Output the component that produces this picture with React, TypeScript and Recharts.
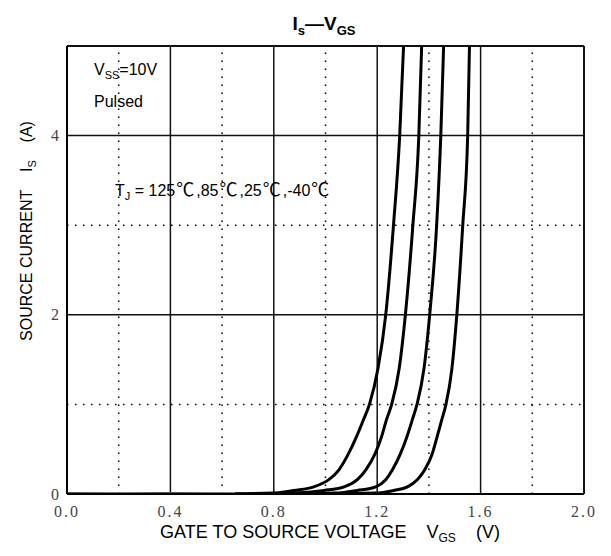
import React from 'react';
import { LineChart, Line, XAxis, YAxis, ReferenceLine } from 'recharts';

// source currents (A)
const currents = [0.003, 0.01, 0.04, 0.08, 0.16, 0.27, 0.45, 0.64, 0.83, 1, 1.4, 2, 3, 4, 5];

// gate voltage at each current, one list per junction temperature
const vgs125 = [0.65, 0.8, 0.878, 0.955, 1.013, 1.052, 1.089, 1.12, 1.147, 1.17, 1.203, 1.233, 1.263, 1.287, 1.302];
const vgs85 = [0.72, 0.877, 0.994, 1.072, 1.123, 1.156, 1.192, 1.217, 1.236, 1.256, 1.285, 1.309, 1.338, 1.361, 1.372];
const vgs25 = [0.85, 1.032, 1.123, 1.194, 1.233, 1.259, 1.29, 1.315, 1.336, 1.354, 1.381, 1.403, 1.43, 1.446, 1.457];
const vgsMinus40 = [1.0, 1.188, 1.265, 1.317, 1.355, 1.384, 1.413, 1.432, 1.45, 1.466, 1.489, 1.508, 1.531, 1.55, 1.557];

// leakage floor before turn-on
const leakV = [0, 0.2, 0.4, 0.6, 0.8];
const leakI = [0.01, 0.008, 0.01, 0.008, 0.01];

const xTicks = [0, 0.4, 0.8, 1.2, 1.6, 2.0];
const yTicks = [0, 2, 4];
const solidX = [0.4, 0.8, 1.2, 1.6, 2.0];
const dottedX = [0.2, 0.6, 1.0, 1.4, 1.8];
const solidY = [2, 4, 5];
const dottedY = [1, 3];

const toPoints = (vs: number[], is: number[]) => vs.map((v, k) => ({ v, i: is[k] }));

const curves = [
  { name: '125C', data: toPoints(vgs125, currents) },
  { name: '85C', data: toPoints(vgs85, currents) },
  { name: '25C', data: toPoints(vgs25, currents) },
  { name: '-40C', data: toPoints(vgsMinus40, currents) },
];
const leakage = toPoints(leakV, leakI);

const sans = 'Liberation Sans, Arial, sans-serif';
const serif = 'Liberation Serif, serif';
const cjk = 'Noto Sans CJK SC';

export default function App() {
  return (
    <div style={{ position: 'relative', width: 603, height: 548 }}>
      <LineChart width={603} height={548} margin={{ top: 38, right: 27, bottom: 32, left: 0 }}>
        <XAxis
          type="number"
          dataKey="v"
          domain={[0, 2]}
          ticks={xTicks}
          tickFormatter={(v: number) => v.toFixed(1)}
          tickLine={false}
          axisLine={{ stroke: '#000', strokeWidth: 2 }}
          tick={{ fill: '#444', fontSize: 16, fontFamily: serif, letterSpacing: 2 }}
          tickMargin={6}
          height={30}
        />
        <YAxis
          type="number"
          domain={[0, 5]}
          ticks={yTicks}
          allowDataOverflow
          tickLine={false}
          axisLine={{ stroke: '#000', strokeWidth: 2 }}
          tick={{ fill: '#444', fontSize: 16, fontFamily: serif }}
          tickMargin={2}
          width={59}
        />
        {dottedX.map((x) => (
          <ReferenceLine key={'dx' + x} x={x} stroke="#000" strokeWidth={1.5} strokeDasharray="1.5 6.5" />
        ))}
        {dottedY.map((y) => (
          <ReferenceLine key={'dy' + y} y={y} stroke="#000" strokeWidth={1.5} strokeDasharray="1.5 6.5" />
        ))}
        {solidX.map((x) => (
          <ReferenceLine key={'sx' + x} x={x} stroke="#111" strokeWidth={x === 2 ? 2 : 1.5} />
        ))}
        {solidY.map((y) => (
          <ReferenceLine key={'sy' + y} y={y} stroke="#111" strokeWidth={y === 5 ? 2 : 1.5} />
        ))}
        <Line
          data={leakage}
          dataKey="i"
          type="linear"
          stroke="#555"
          strokeWidth={2}
          dot={false}
          isAnimationActive={false}
        />
        {curves.map((c) => (
          <Line
            key={c.name}
            data={c.data}
            dataKey="i"
            name={c.name}
            type="monotone"
            stroke="#000"
            strokeWidth={3}
            dot={false}
            isAnimationActive={false}
          />
        ))}
      </LineChart>
      <svg
        width={603}
        height={548}
        style={{ position: 'absolute', left: 0, top: 0, pointerEvents: 'none' }}
      >
        <text x={316} y={22} textAnchor="middle" fontFamily={sans} fontWeight="bold" fontSize={19}>
          I<tspan fontSize={13} dy={5}>s</tspan>
          <tspan dy={-5}>—V</tspan>
          <tspan fontSize={13} dy={5}>GS</tspan>
        </text>
        <text x={86} y={67} fontFamily={sans} fontSize={16}>
          V<tspan fontSize={11} dy={4}>SS</tspan>
          <tspan dy={-4}>=10V</tspan>
        </text>
        <text x={86} y={99} fontFamily={sans} fontSize={16}>Pulsed</text>
        <text x={107} y={188} fontFamily={sans} fontSize={16}>
          T<tspan fontSize={11} dy={4}>J</tspan>
          <tspan dy={-4}> = 125</tspan>
          <tspan fontFamily={cjk} fontSize={18} dx={1}>℃</tspan>
          <tspan dx={2}>,85</tspan>
          <tspan fontFamily={cjk} fontSize={18} dx={1}>℃</tspan>
          <tspan dx={2}>,25</tspan>
          <tspan fontFamily={cjk} fontSize={18} dx={1}>℃</tspan>
          <tspan dx={2}>,-40</tspan>
          <tspan fontFamily={cjk} fontSize={18} dx={1}>℃</tspan>
        </text>
        <text x={322} y={530} textAnchor="middle" fontFamily={sans} fontSize={18}>
          GATE TO SOURCE VOLTAGE{'\u00a0\u00a0\u00a0\u00a0'}V<tspan fontSize={12} dy={4}>GS</tspan>
          <tspan dy={-4}>{'\u00a0\u00a0\u00a0\u00a0'}(V)</tspan>
        </text>
        <text
          transform="translate(24,223) rotate(-90)"
          textAnchor="middle"
          fontFamily={sans}
          fontSize={16}
        >
          SOURCE CURRENT{'\u00a0\u00a0\u00a0\u00a0'}I<tspan fontSize={11} dy={4}>S</tspan>
          <tspan dy={-4}>{'\u00a0\u00a0\u00a0\u00a0'}(A)</tspan>
        </text>
      </svg>
    </div>
  );
}
